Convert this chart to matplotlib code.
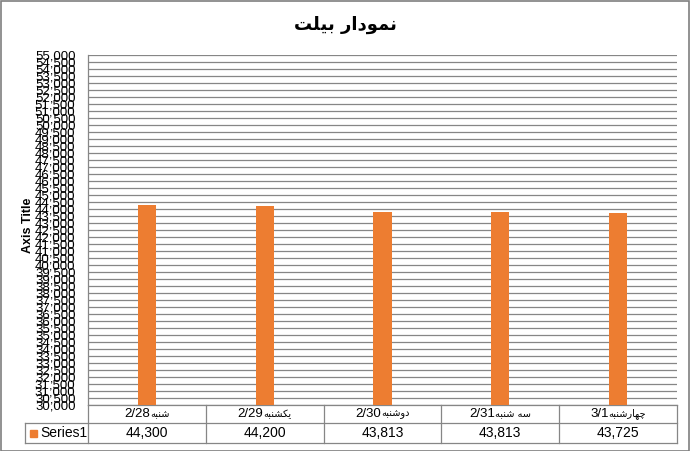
import numpy as np
import matplotlib
matplotlib.use("Agg")
import matplotlib.pyplot as plt
from matplotlib.lines import Line2D
from matplotlib.patches import Rectangle


# data
dates = ['2/28', '2/29', '2/30', '2/31', '3/1']
days = ['شنبه', 'یکشنبه', 'دوشنبه', 'سه شنبه', 'چهارشنبه']
values = [44300, 44200, 43813, 43813, 43725]
series_name = 'Series1'
title = 'نمودار بیلت'
y_title = 'Axis Title'


# matplotlib has no arabic shaping, so do the joining forms by hand
# (isolated, final, initial, medial)
FORMS = {
    'ا': ('\uFE8D', '\uFE8E', None, None),
    'ب': ('\uFE8F', '\uFE90', '\uFE91', '\uFE92'),
    'ت': ('\uFE95', '\uFE96', '\uFE97', '\uFE98'),
    'چ': ('\uFB7A', '\uFB7B', '\uFB7C', '\uFB7D'),
    'د': ('\uFEA9', '\uFEAA', None, None),
    'ر': ('\uFEAD', '\uFEAE', None, None),
    'س': ('\uFEB1', '\uFEB2', '\uFEB3', '\uFEB4'),
    'ش': ('\uFEB5', '\uFEB6', '\uFEB7', '\uFEB8'),
    'ک': ('\uFB8E', '\uFB8F', '\uFB90', '\uFB91'),
    'ل': ('\uFEDD', '\uFEDE', '\uFEDF', '\uFEE0'),
    'م': ('\uFEE1', '\uFEE2', '\uFEE3', '\uFEE4'),
    'ن': ('\uFEE5', '\uFEE6', '\uFEE7', '\uFEE8'),
    'ه': ('\uFEE9', '\uFEEA', '\uFEEB', '\uFEEC'),
    'و': ('\uFEED', '\uFEEE', None, None),
    'ی': ('\uFBFC', '\uFBFD', '\uFBFE', '\uFBFF'),
}


def shape(s):
    out = []
    for i, c in enumerate(s):
        if c not in FORMS:
            out.append(c)
            continue
        prev = s[i - 1] if i > 0 else ''
        nxt = s[i + 1] if i + 1 < len(s) else ''
        iso, fin, ini, med = FORMS[c]
        join_prev = prev in FORMS and FORMS[prev][2] is not None
        join_next = nxt in FORMS and ini is not None
        if join_prev and join_next:
            out.append(med)
        elif join_prev:
            out.append(fin)
        elif join_next:
            out.append(ini)
        else:
            out.append(iso)
    return ''.join(reversed(out))


W, H = 690, 451
orange = '#ED7D31'
grey = '#868686'
latin = ['Liberation Sans', 'DejaVu Sans']
arab = ['DejaVu Sans']

fig = plt.figure(figsize=(W / 100, H / 100), dpi=100)
fig.patch.set_facecolor('white')

x0, x1, ytop, ybot = 88, 677, 55, 405
ax = fig.add_axes([x0 / W, 1 - ybot / H, (x1 - x0) / W, (ybot - ytop) / H])

x = np.arange(len(values))
ax.bar(x, values, width=0.155, color=orange, zorder=3)
ax.set_xlim(-0.5, len(values) - 0.5)
ax.set_ylim(30000, 55000)
ticks = np.arange(30000, 55001, 500)
ax.set_yticks(ticks)
ax.set_yticklabels([f'{t:,}' for t in ticks], family=latin, fontsize=9.5)
ax.tick_params(axis='y', length=0, pad=9)
ax.set_xticks([])
ax.grid(axis='y', color=grey, lw=0.9, zorder=0)
for s in ['top', 'right']:
    ax.spines[s].set_visible(False)
for s in ['left', 'bottom']:
    ax.spines[s].set_color(grey)
    ax.spines[s].set_linewidth(0.9)

# title and axis title
fig.text(0.5, 1 - 25 / H, shape(title), ha='center', va='center',
         fontsize=13, fontweight='bold', family=arab)
fig.text(28 / W, 1 - 225 / H, y_title, rotation=90, ha='center', va='center',
         fontsize=9, fontweight='bold', family=latin)

# data table under the plot
r2 = -(423 - ybot) / (ybot - ytop)
r3 = -(443 - ybot) / (ybot - ytop)
tr = ax.get_xaxis_transform()
for i in range(len(values) + 1):
    ax.add_line(Line2D([i - 0.5, i - 0.5], [0, r3], transform=tr, color=grey,
                       lw=0.9, clip_on=False))
left_edge = 25 / W
for yy in (r2, r3):
    yf = (1 - ybot / H) + yy * (ybot - ytop) / H
    fig.add_artist(Line2D([left_edge, x1 / W], [yf, yf], color=grey, lw=0.9))
fig.add_artist(Line2D([left_edge, left_edge],
                      [1 - 423 / H, 1 - 443 / H], color=grey, lw=0.9))

fig.add_artist(Rectangle((30 / W, 1 - 437 / H), 7 / W, 7 / H, color=orange))
fig.text(40 / W, 1 - 433 / H, series_name, ha='left', va='center',
         fontsize=10, family=latin)

ymid1 = r2 / 2
ymid2 = (r2 + r3) / 2
fig.canvas.draw()
rend = fig.canvas.get_renderer()
for i, (d, day, v) in enumerate(zip(dates, days, values)):
    t1 = ax.text(i, ymid1, d, transform=tr, ha='right', va='center',
                 fontsize=9.5, family=latin)
    t2 = ax.text(i, ymid1, shape(day), transform=tr, ha='left', va='center',
                 fontsize=7, family=arab)
    w1 = t1.get_window_extent(rend).width
    w2 = t2.get_window_extent(rend).width
    shift = (w1 - w2) / 2 / ((x1 - x0) / len(values))
    t1.set_x(i + shift)
    t2.set_x(i + shift)
    ax.text(i, ymid2, f'{v:,}', transform=tr, ha='center', va='center',
            fontsize=10, family=latin)

fig.add_artist(Rectangle((0.5 / W, 0.5 / H), 1 - 1.5 / W, 1 - 1.5 / H,
                         fill=False, edgecolor='#7f7f7f', lw=1.2))

fig.savefig('out.png', dpi=100)
